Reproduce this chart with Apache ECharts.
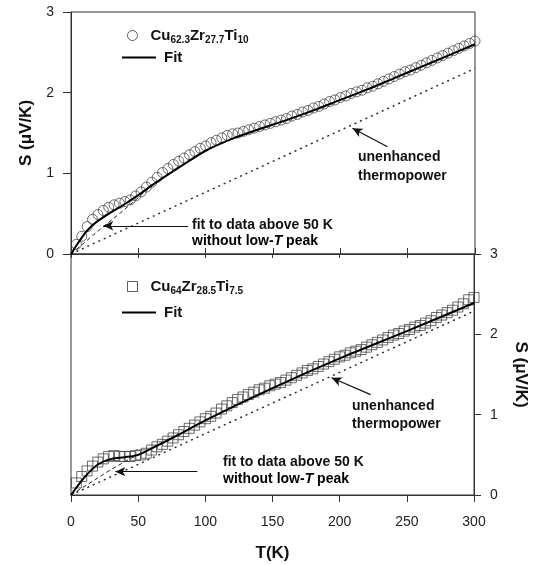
<!DOCTYPE html>
<html>
<head>
<meta charset="utf-8">
<script src="https://cdn.jsdelivr.net/npm/echarts@6/dist/echarts.min.js"></script>
<style>
  html, body { margin: 0; padding: 0; background: #fff; }
  #main { width: 537px; height: 565px; }
</style>
</head>
<body>
<div id="main"></div>
<script>
var FONT = '"Liberation Sans", Arial, sans-serif';

// temperatures of the measured points (K), both samples
var tData = [4, 8, 12, 16, 20, 24, 28, 32, 36, 40, 44, 48, 52, 56, 60, 64, 68, 72, 76, 80,
  84, 88, 92, 96, 100, 104, 108, 112, 116, 120, 124, 128, 132, 136, 140, 144, 148, 152, 156, 160,
  164, 168, 172, 176, 180, 184, 188, 192, 196, 200, 204, 208, 212, 216, 220, 224, 228, 232, 236, 240,
  244, 248, 252, 256, 260, 264, 268, 272, 276, 280, 284, 288, 292, 296, 300];

// Cu62.3Zr27.7Ti10 (circles)
var sTop = [0.12, 0.22, 0.34, 0.43, 0.49, 0.54, 0.58, 0.61, 0.63, 0.65, 0.67, 0.72, 0.77, 0.83, 0.89, 0.95, 1.01, 1.06, 1.11, 1.15,
  1.19, 1.23, 1.27, 1.31, 1.34, 1.38, 1.41, 1.44, 1.47, 1.49, 1.50, 1.52, 1.54, 1.56, 1.58, 1.60, 1.62, 1.64, 1.66, 1.68,
  1.71, 1.73, 1.76, 1.78, 1.81, 1.83, 1.86, 1.89, 1.91, 1.94, 1.96, 1.99, 2.01, 2.03, 2.06, 2.08, 2.11, 2.14, 2.17, 2.20,
  2.23, 2.26, 2.28, 2.31, 2.34, 2.37, 2.40, 2.43, 2.46, 2.49, 2.52, 2.55, 2.58, 2.61, 2.64];

// Cu64Zr28.5Ti7.5 (squares)
var sBot = [0.15, 0.23, 0.30, 0.36, 0.41, 0.45, 0.48, 0.49, 0.48, 0.48, 0.48, 0.49, 0.50, 0.52, 0.56, 0.60, 0.63, 0.67, 0.71, 0.75,
  0.79, 0.83, 0.87, 0.91, 0.95, 0.98, 1.02, 1.07, 1.11, 1.15, 1.19, 1.22, 1.25, 1.28, 1.31, 1.33, 1.36, 1.38, 1.40, 1.43,
  1.46, 1.49, 1.52, 1.55, 1.57, 1.60, 1.63, 1.66, 1.69, 1.72, 1.74, 1.77, 1.79, 1.81, 1.84, 1.87, 1.90, 1.93, 1.96, 1.99,
  2.01, 2.04, 2.06, 2.09, 2.11, 2.14, 2.17, 2.21, 2.24, 2.27, 2.30, 2.34, 2.38, 2.43, 2.46];

// fit curves
var fitTopT = [0, 5, 10, 15, 20, 30, 40, 50, 60, 80, 100, 120, 140, 160, 180, 200, 220, 240, 260, 280, 300];
var fitTopS = [0, 0.13, 0.25, 0.34, 0.41, 0.52, 0.62, 0.73, 0.85, 1.07, 1.28, 1.43, 1.55, 1.66, 1.78, 1.91, 2.04, 2.18, 2.32, 2.46, 2.60];
var fitBotT = [0, 10, 20, 30, 40, 50, 60, 80, 100, 150, 200, 250, 300];
var fitBotS = [0, 0.22, 0.38, 0.45, 0.47, 0.50, 0.58, 0.75, 0.93, 1.33, 1.70, 2.04, 2.39];

// fit to data above 50 K without low-T peak
var hiTopT = [0, 12, 24, 36, 48, 60];
var hiTopS = [0, 0.17, 0.34, 0.50, 0.67, 0.85];
var hiBotT = [0, 15, 30, 45, 55];
var hiBotS = [0, 0.16, 0.32, 0.46, 0.54];

// unenhanced thermopower (straight lines)
var baseT = [0, 300];
var baseTop = [0, 2.30];
var baseBot = [0, 2.29];

// annotation arrows [tailT, tailS, tipT, tipS]
var arrowTopBase = [235, 1.33, 209, 1.56];
var arrowTopFit = [87, 0.35, 24, 0.35];
var arrowBotBase = [223, 1.25, 194, 1.46];
var arrowBotFit = [94, 0.29, 33, 0.29];

var xTicks = ['0', '50', '100', '150', '200', '250', '300'];

function pairs(xs, ys) {
    return xs.map(function (x, i) { return [x, ys[i]]; });
}
function arrow(a) {
    return [[{ coord: [a[0], a[1]] }, { coord: [a[2], a[3]] }]];
}

var rich = {
    b: { fontFamily: FONT, fontWeight: 'bold', fontSize: 15, color: '#111' },
    s: { fontFamily: FONT, fontWeight: 'bold', fontSize: 10, color: '#111', padding: [9, 0, 0, 0] }
};
var annRich = {
    n: { fontFamily: FONT, fontWeight: 'bold', fontSize: 14, color: '#111' },
    i: { fontFamily: FONT, fontWeight: 'bold', fontStyle: 'italic', fontSize: 14, color: '#111' }
};

var chart = echarts.init(document.getElementById('main'));

var axisLine = { show: true, onZero: false, lineStyle: { color: '#333', width: 1 } };
var labelStyle = { fontFamily: FONT, fontSize: 14, color: '#222' };
var nameStyle = { fontFamily: FONT, fontSize: 17, fontWeight: 'bold', color: '#111' };

var option = {
    animation: false,
    backgroundColor: '#fff',
    grid: [
        { left: 71, right: 62, top: 12, height: 242, show: true, borderColor: '#333', borderWidth: 1 },
        { left: 71, right: 62, top: 254, height: 241, show: true, borderColor: '#333', borderWidth: 1 }
    ],
    xAxis: [
        { type: 'value', gridIndex: 0, min: 0, max: 300, interval: 50, axisLine: axisLine,
          axisTick: { inside: true, length: 6, lineStyle: { color: '#333' } },
          axisLabel: { show: false }, splitLine: { show: false } },
        { type: 'value', gridIndex: 1, min: 0, max: 300, interval: 50, axisLine: axisLine,
          axisTick: { length: 7, lineStyle: { color: '#333' } },
          axisLabel: Object.assign({ margin: 20, formatter: function (v) { return xTicks[v / 50]; } }, labelStyle),
          splitLine: { show: false },
          name: 'T(K)', nameLocation: 'middle', nameGap: 50, nameTextStyle: nameStyle },
        { type: 'value', gridIndex: 1, position: 'top', min: 0, max: 300, interval: 50, axisLine: axisLine,
          axisTick: { inside: true, length: 4, lineStyle: { color: '#333' } },
          axisLabel: { show: false }, splitLine: { show: false } }
    ],
    yAxis: [
        { type: 'value', gridIndex: 0, min: 0, max: 3, interval: 1, axisLine: axisLine,
          axisTick: { length: 8, lineStyle: { color: '#333' } },
          axisLabel: Object.assign({ margin: 17 }, labelStyle), splitLine: { show: false },
          name: 'S (\u03bcV/K)', nameLocation: 'middle', nameGap: 36, nameRotate: 90, nameTextStyle: nameStyle },
        { type: 'value', gridIndex: 1, position: 'right', min: 0, max: 3, interval: 1, axisLine: axisLine,
          axisTick: { length: 7, lineStyle: { color: '#333' } },
          axisLabel: Object.assign({ margin: 16 }, labelStyle), splitLine: { show: false },
          name: 'S (\u03bcV/K)', nameLocation: 'middle', nameGap: 38, nameRotate: -90, nameTextStyle: nameStyle }
    ],
    legend: [
        { data: [{ name: 'topData', icon: 'circle', itemStyle: { color: 'rgba(0,0,0,0)', borderColor: '#333', borderWidth: 1 } }],
          left: 127, top: 28, padding: 0, itemWidth: 10, itemHeight: 10, selectedMode: false,
          formatter: function () { return '{b|Cu}{s|62.3}{b|Zr}{s|27.7}{b|Ti}{s|10}'; },
          textStyle: { rich: rich, padding: [0, 0, 0, 8] } },
        { data: [{ name: 'topFit', icon: 'rect', itemStyle: { color: '#000' } }],
          left: 122, top: 50, padding: 0, itemWidth: 34, itemHeight: 2, selectedMode: false,
          formatter: function () { return 'Fit'; },
          textStyle: { fontFamily: FONT, fontWeight: 'bold', fontSize: 15, color: '#111', padding: [0, 0, 0, 3] } },
        { data: [{ name: 'botData', icon: 'rect', itemStyle: { color: 'rgba(0,0,0,0)', borderColor: '#333', borderWidth: 1 } }],
          left: 127, top: 279, padding: 0, itemWidth: 10, itemHeight: 10, selectedMode: false,
          formatter: function () { return '{b|Cu}{s|64}{b|Zr}{s|28.5}{b|Ti}{s|7.5}'; },
          textStyle: { rich: rich, padding: [0, 0, 0, 8] } },
        { data: [{ name: 'botFit', icon: 'rect', itemStyle: { color: '#000' } }],
          left: 122, top: 305, padding: 0, itemWidth: 34, itemHeight: 2, selectedMode: false,
          formatter: function () { return 'Fit'; },
          textStyle: { fontFamily: FONT, fontWeight: 'bold', fontSize: 15, color: '#111', padding: [0, 0, 0, 3] } }
    ],
    series: [
        { name: 'topBase', type: 'line', xAxisIndex: 0, yAxisIndex: 0, data: pairs(baseT, baseTop),
          symbol: 'none', lineStyle: { color: '#222', width: 1.4, type: [2, 4] } },
        { name: 'topHi', type: 'line', xAxisIndex: 0, yAxisIndex: 0, data: pairs(hiTopT, hiTopS),
          symbol: 'none', lineStyle: { color: '#222', width: 1, type: [4, 3] } },
        { name: 'topData', type: 'scatter', xAxisIndex: 0, yAxisIndex: 0, data: pairs(tData, sTop),
          symbol: 'circle', symbolSize: 10,
          itemStyle: { color: 'rgba(0,0,0,0)', borderColor: '#333', borderWidth: 0.9 } },
        { name: 'topFit', type: 'line', xAxisIndex: 0, yAxisIndex: 0, data: pairs(fitTopT, fitTopS),
          symbol: 'none', smooth: 0.3, lineStyle: { color: '#000', width: 2 },
          markLine: { silent: true, symbol: ['none', 'arrow'], symbolSize: [7, 10],
            lineStyle: { color: '#111', width: 1.2, type: 'solid' }, label: { show: false },
            data: arrow(arrowTopBase).concat(arrow(arrowTopFit)) } },

        { name: 'botBase', type: 'line', xAxisIndex: 1, yAxisIndex: 1, data: pairs(baseT, baseBot),
          symbol: 'none', lineStyle: { color: '#222', width: 1.4, type: [2, 4] } },
        { name: 'botHi', type: 'line', xAxisIndex: 1, yAxisIndex: 1, data: pairs(hiBotT, hiBotS),
          symbol: 'none', lineStyle: { color: '#222', width: 1, type: [4, 3] } },
        { name: 'botData', type: 'scatter', xAxisIndex: 1, yAxisIndex: 1, data: pairs(tData, sBot),
          symbol: 'rect', symbolSize: 10,
          itemStyle: { color: 'rgba(0,0,0,0)', borderColor: '#333', borderWidth: 0.9 } },
        { name: 'botFit', type: 'line', xAxisIndex: 1, yAxisIndex: 1, data: pairs(fitBotT, fitBotS),
          symbol: 'none', smooth: 0.3, lineStyle: { color: '#000', width: 2 },
          markLine: { silent: true, symbol: ['none', 'arrow'], symbolSize: [7, 10],
            lineStyle: { color: '#111', width: 1.2, type: 'solid' }, label: { show: false },
            data: arrow(arrowBotBase).concat(arrow(arrowBotFit)) } }
    ],
    graphic: [
        { type: 'text', left: 358, top: 150, style: { text: 'unenhanced', font: 'bold 14px ' + FONT, fill: '#111' } },
        { type: 'text', left: 358, top: 169, style: { text: 'thermopower', font: 'bold 14px ' + FONT, fill: '#111' } },
        { type: 'text', left: 192, top: 218, style: { text: 'fit to data above 50 K', font: 'bold 14px ' + FONT, fill: '#111' } },
        { type: 'text', left: 192, top: 234, style: { text: '{n|without low-}{i|T}{n| peak}', rich: annRich } },
        { type: 'text', left: 352, top: 399, style: { text: 'unenhanced', font: 'bold 14px ' + FONT, fill: '#111' } },
        { type: 'text', left: 352, top: 417, style: { text: 'thermopower', font: 'bold 14px ' + FONT, fill: '#111' } },
        { type: 'text', left: 223, top: 455, style: { text: 'fit to data above 50 K', font: 'bold 14px ' + FONT, fill: '#111' } },
        { type: 'text', left: 223, top: 472, style: { text: '{n|without low-}{i|T}{n| peak}', rich: annRich } }
    ]
};

chart.setOption(option);
</script>
</body>
</html>
